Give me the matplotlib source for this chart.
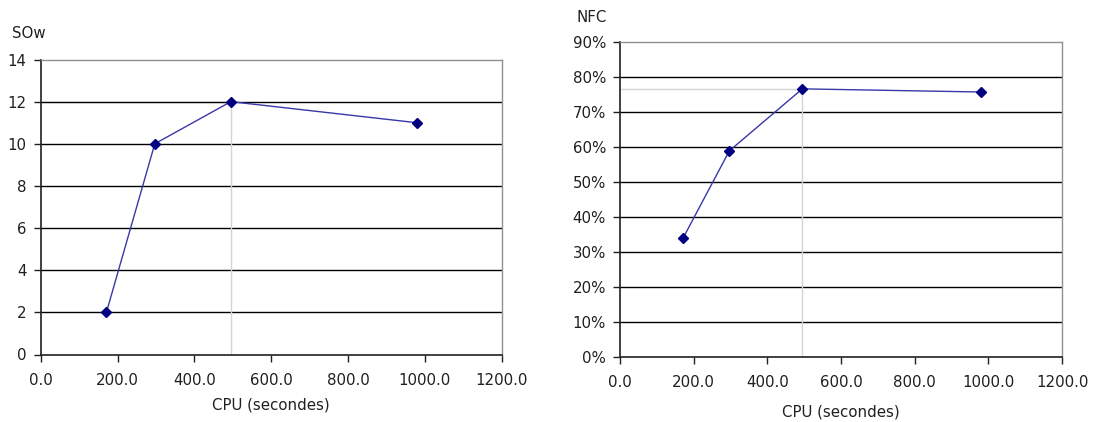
import matplotlib
matplotlib.use("Agg")
import matplotlib.pyplot as plt
from matplotlib.ticker import FuncFormatter

plt.rcParams['font.family'] = ['DejaVu Sans']

cpu = [171, 297, 495, 979]
sow = [2, 10, 12, 11]
nfc = [0.34, 0.59, 0.767, 0.758]
best_idx = 2

xlabel = "CPU (secondes)"
x_ticks = [0, 200, 400, 600, 800, 1000, 1200]
sow_ticks = [0, 2, 4, 6, 8, 10, 12, 14]
nfc_ticks = [0, 0.1, 0.2, 0.3, 0.4, 0.5, 0.6, 0.7, 0.8, 0.9]

fig = plt.figure(figsize=(10.95, 4.22), dpi=100)
W, H = 1095, 422

def make_ax(l, r, t, b):
    return fig.add_axes([l / W, 1 - b / H, (r - l) / W, (b - t) / H])

line_col = '#3838a8'
mk_col = '#000080'
fs = 10.8
txt_col = '#202020'

def style(ax, yticks, ymax, fmt, xpad, ypad):
    ax.set_xlim(0, 1200)
    ax.set_ylim(0, ymax)
    ax.set_xticks(x_ticks)
    ax.set_yticks(yticks)
    ax.xaxis.set_major_formatter(FuncFormatter(lambda v, p: f"{v:.1f}"))
    ax.yaxis.set_major_formatter(FuncFormatter(fmt))
    for y in yticks[1:-1]:
        ax.axhline(y, color='black', lw=1, zorder=1)
    for s in ['top', 'right']:
        ax.spines[s].set_color('#909090')
        ax.spines[s].set_linewidth(1)
    for s in ['left', 'bottom']:
        ax.spines[s].set_color('#202020')
        ax.spines[s].set_linewidth(1.2)
    ax.tick_params(axis='both', direction='out', length=5, width=1,
                   color='#202020', labelsize=fs, labelcolor=txt_col)
    ax.tick_params(axis='x', pad=xpad)
    ax.tick_params(axis='y', pad=ypad)

# Left chart
ax1 = make_ax(40.7, 501.7, 59.5, 354.5)
style(ax1, sow_ticks, 14, lambda v, p: f"{int(v)}", 8, 5)
ax1.plot([cpu[best_idx], cpu[best_idx]], [0, sow[best_idx]], color='#d4d4d4', lw=1, zorder=2)
ax1.plot([0, cpu[best_idx]], [sow[best_idx], sow[best_idx]], color='#d4d4d4', lw=1, zorder=0.5)
ax1.plot(cpu, sow, color=line_col, lw=1, marker='D', markersize=5,
         markerfacecolor=mk_col, markeredgecolor=mk_col, zorder=3, clip_on=False)
ax1.set_xlabel(xlabel, fontsize=fs, labelpad=7, color=txt_col)
fig.text(12 / W, 1 - 33 / H, "SOw", fontsize=fs, va='center', ha='left', color=txt_col)

# Right chart
ax2 = make_ax(620, 1062, 42.3, 357.3)
style(ax2, nfc_ticks, 0.9, lambda v, p: f"{int(round(v * 100))}%", 7.5, 5)
ax2.plot([cpu[best_idx], cpu[best_idx]], [0, nfc[best_idx]], color='#d4d4d4', lw=1, zorder=2)
ax2.plot([0, cpu[best_idx]], [nfc[best_idx], nfc[best_idx]], color='#d4d4d4', lw=1, zorder=2)
ax2.plot(cpu, nfc, color=line_col, lw=1, marker='D', markersize=5,
         markerfacecolor=mk_col, markeredgecolor=mk_col, zorder=3, clip_on=False)
ax2.set_xlabel(xlabel, fontsize=fs, labelpad=11, color=txt_col)
fig.text(577 / W, 1 - 17 / H, "NFC", fontsize=fs, va='center', ha='left', color=txt_col)

fig.savefig("out.png", dpi=100)
